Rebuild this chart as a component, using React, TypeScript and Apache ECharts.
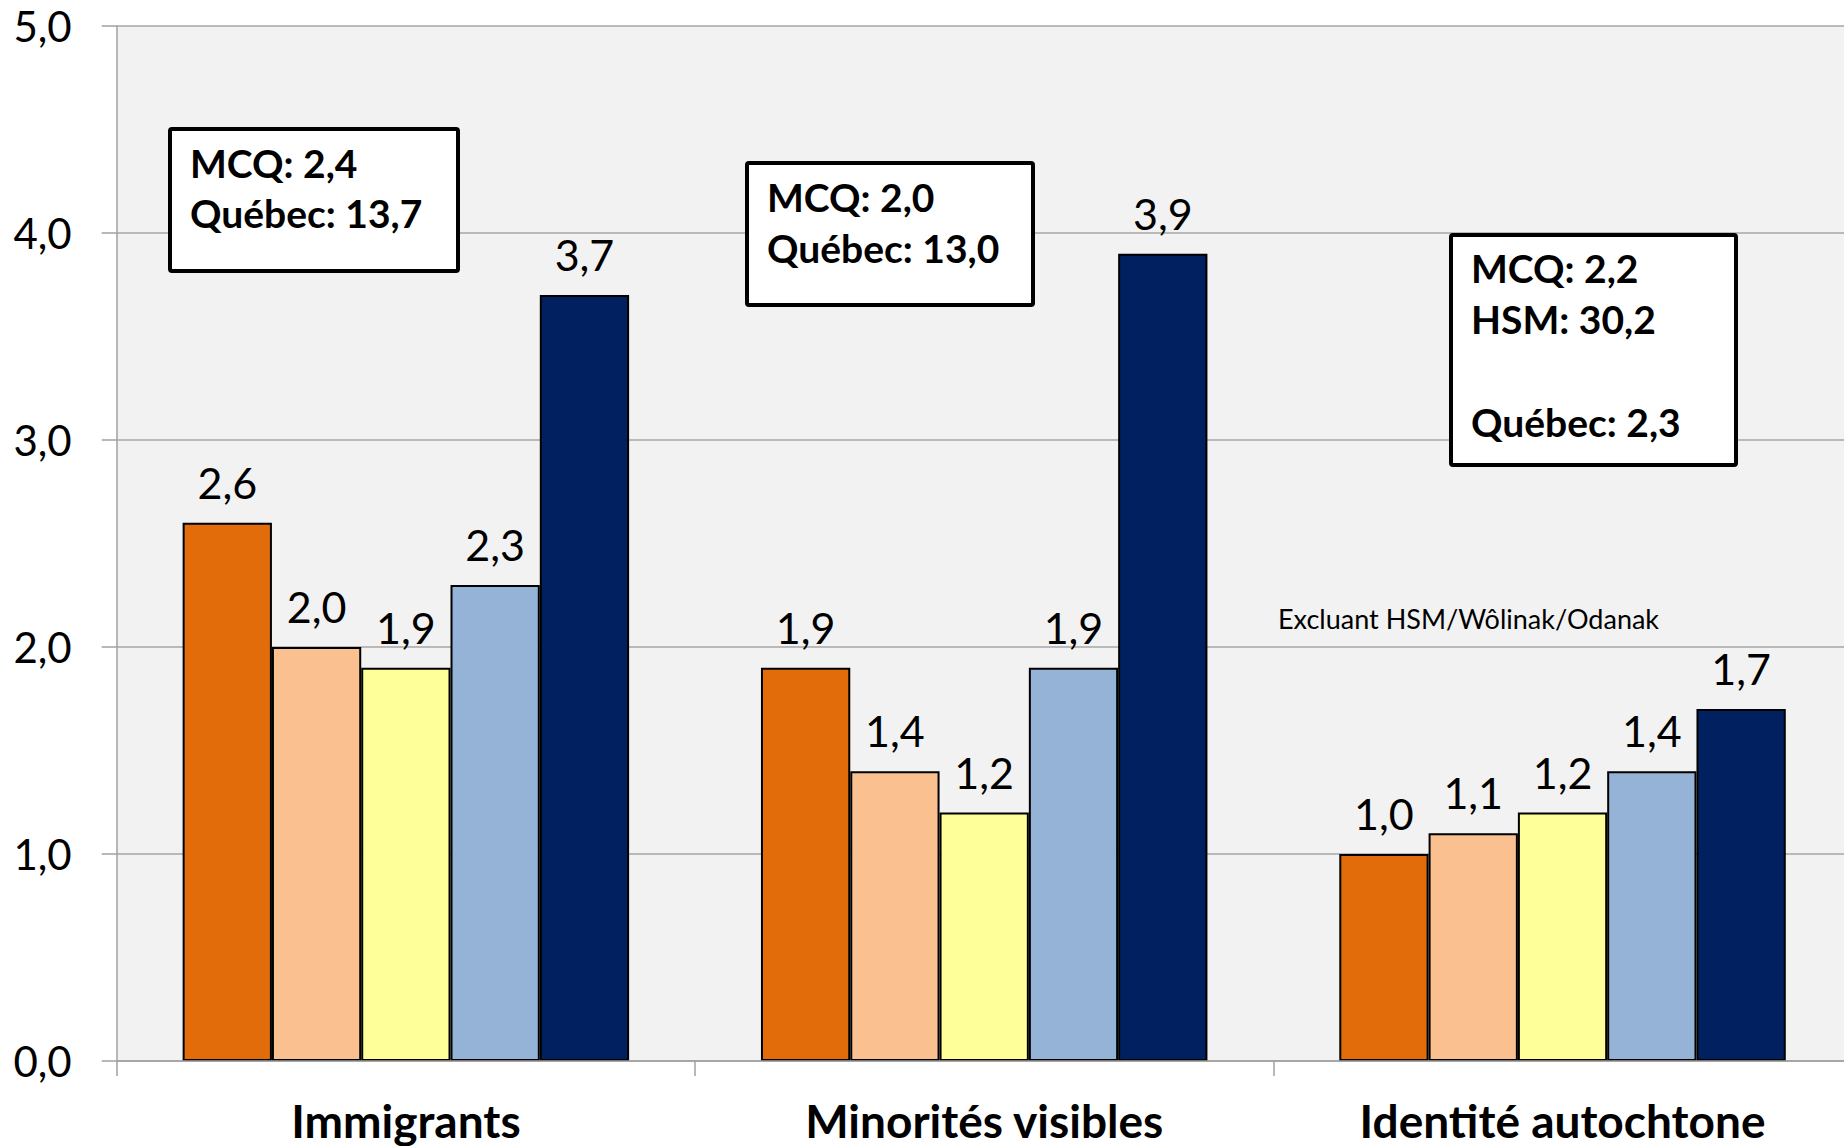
import React, { useEffect, useRef } from "react";
import * as echarts from "echarts";

const categories = ["Immigrants", "Minorités visibles", "Identité autochtone"];
const seriesNames = ["Série 1", "Série 2", "Série 3", "Série 4", "Série 5"];
const seriesColors = ["#E36C0A", "#FAC090", "#FFFF99", "#95B3D7", "#002060"];
const series1 = [2.6, 1.9, 1.0];
const series2 = [2.0, 1.4, 1.1];
const series3 = [1.9, 1.2, 1.2];
const series4 = [2.3, 1.9, 1.4];
const series5 = [3.7, 3.9, 1.7];
const allSeries = [series1, series2, series3, series4, series5];

const yMin = 0;
const yMax = 5;
const yInterval = 1;

const box1Lines = ["MCQ: 2,4", "Québec: 13,7"];
const box2Lines = ["MCQ: 2,0", "Québec: 13,0"];
const box3Lines = ["MCQ: 2,2", "HSM: 30,2", "", "Québec: 2,3"];
const noteText = "Excluant HSM/Wôlinak/Odanak";

const FONT = "Lato, 'Open Sans', sans-serif";
const fmt = (v: number) => v.toFixed(1).replace(".", ",");

function boxGraphic(x: number, y: number, w: number, h: number, lines: string[], textX: number, firstMid: number, step: number) {
  const children: any[] = [
    {
      type: "rect",
      shape: { x, y, width: w, height: h, r: 2 },
      style: { fill: "#ffffff", stroke: "#000000", lineWidth: 4 },
      z: 10,
    },
  ];
  lines.forEach((t, i) => {
    if (!t) return;
    children.push({
      type: "text",
      x: textX,
      y: firstMid + i * step,
      style: {
        text: t,
        fill: "#000",
        font: `bold 39px ${FONT}`,
        verticalAlign: "middle",
        align: "left",
      },
      z: 11,
    });
  });
  return children;
}

export default function App() {
  const ref = useRef<HTMLDivElement>(null);
  useEffect(() => {
    document.body.style.margin = "0";
    document.body.style.overflow = "hidden";
    const chart = echarts.init(ref.current!, undefined, { renderer: "svg" });
    const gridLeft = 116.7;
    const gridTop = 26;
    const option: any = {
      animation: false,
      backgroundColor: "#ffffff",
      grid: {
        left: gridLeft,
        top: gridTop,
        width: 1735,
        height: 1035,
        show: true,
        backgroundColor: "#f2f2f2",
        borderWidth: 0,
      },
      xAxis: {
        type: "category",
        data: categories,
        z: 5,
        axisLine: { show: true, lineStyle: { color: "#a0a0a0", width: 1.5 } },
        axisTick: { show: true, length: 15, lineStyle: { color: "#a0a0a0", width: 1.5 } },
        axisLabel: {
          color: "#000",
          fontFamily: FONT,
          fontWeight: "bold",
          fontSize: 46,
          lineHeight: 46,
          margin: 36,
        },
      },
      yAxis: {
        type: "value",
        min: yMin,
        max: yMax,
        interval: yInterval,
        axisLine: { show: true, lineStyle: { color: "#a0a0a0", width: 1.5 } },
        axisTick: { show: true, length: 15, lineStyle: { color: "#a0a0a0", width: 1.5 } },
        splitLine: { show: true, lineStyle: { color: "#a6a6a6", width: 1.5 } },
        axisLabel: {
          color: "#000",
          fontFamily: FONT,
          fontSize: 42,
          margin: 45,
          formatter: (v: number) => fmt(v),
        },
      },
      series: allSeries.map((data, i) => ({
        name: seriesNames[i],
        type: "bar",
        data,
        barGap: "0%",
        barCategoryGap: "22.8%",
        itemStyle: { color: seriesColors[i], borderColor: "#000", borderWidth: 2 },
        label: {
          show: true,
          position: "top",
          distance: 19,
          color: "#000",
          fontFamily: FONT,
          fontSize: 43,
          lineHeight: 43,
          formatter: (p: any) => fmt(p.value),
        },
      })),
      graphic: [
        ...boxGraphic(170, 129, 288, 142, box1Lines, 190, 163, 50),
        ...boxGraphic(747, 163, 286, 142, box2Lines, 767, 197, 51),
        ...boxGraphic(1451, 235, 285, 230, box3Lines, 1471, 268, 51.3),
        {
          type: "text",
          x: 1278,
          y: 618,
          style: {
            text: noteText,
            fill: "#000",
            font: `27px ${FONT}`,
            verticalAlign: "middle",
            align: "left",
          },
          z: 11,
        },
      ],
    };
    chart.setOption(option);
    return () => chart.dispose();
  }, []);
  return (
    <div
      ref={ref}
      style={{ position: "fixed", left: 0, top: 0, width: 1860, height: 1146 }}
    />
  );
}
